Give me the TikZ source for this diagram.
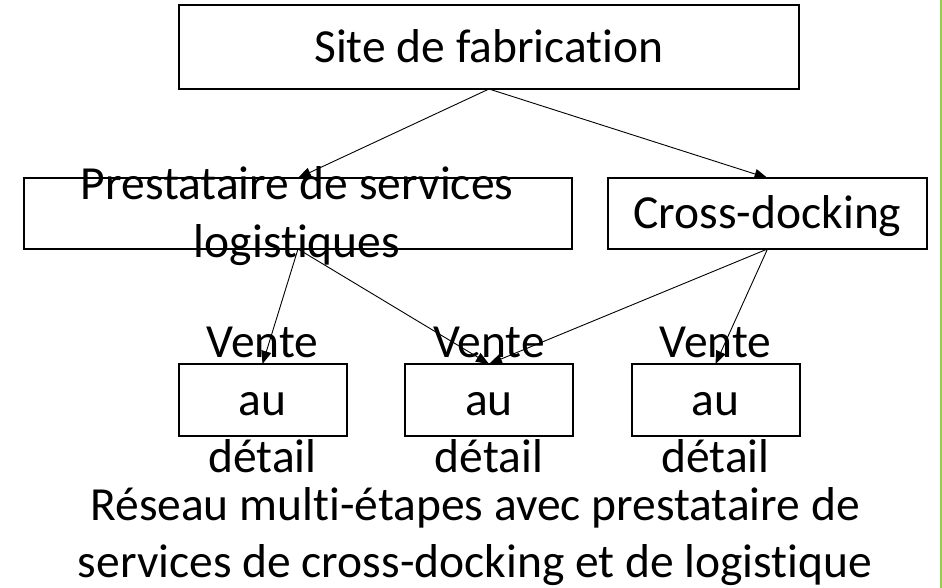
\documentclass[tikz,border=0pt]{standalone}
\usepackage{fontspec}
\setmainfont{Carlito}[Ligatures=NoCommon]
\usetikzlibrary{arrows.meta}
\definecolor{edgegreen}{RGB}{146,208,80}
\begin{document}
\begin{tikzpicture}[x=1pt,y=-1pt,
  box/.style={draw=black, line width=2pt, inner sep=0pt, outer sep=0pt},
  lbl/.style={inner sep=0pt, anchor=base, font=\fontsize{47.5}{57}\selectfont},
  conn/.style={line width=0.9pt, -{Triangle[length=13pt,width=10pt]}},
  rim/.style={draw=edgegreen, line width=1.5pt}]
\useasboundingbox (0,0) rectangle (942,588);
% boxes
\node[box, minimum width=620pt, minimum height=84pt] (site) at (489,47) {};
\node[box, minimum width=548pt, minimum height=71pt] (pl) at (298,213.5) {};
\node[box, minimum width=319pt, minimum height=71pt] (cd) at (767.5,213.5) {};
\node[box, minimum width=168pt, minimum height=72pt] (r1) at (262.5,400) {};
\node[box, minimum width=168pt, minimum height=72pt] (r2) at (489,400) {};
\node[box, minimum width=168pt, minimum height=72pt] (r3) at (715.5,400) {};
% texts
\node[lbl] (tsite) at (489,63) {Site de fabrication};
\node[lbl] (tpl1) at (297,200) {Prestataire de services};
\node[lbl] (tpl2) at (297,257) {logistiques};
\node[lbl] (tcd) at (767.5,229) {Cross-docking};
\foreach \n/\x in {1/262.5,2/489,3/715.5}{
  \node[lbl] (v\n) at (\x,357) {Vente};
  \node[lbl] (a\n) at (\x,415) {au};
  \node[lbl] (d\n) at (\x,472) {détail};
}
\node[lbl] (cap1) at (475,520) {Réseau multi-étapes avec prestataire de};
\node[lbl] (cap2) at (475,577) {services de cross-docking et de logistique};
% connectors
\draw[conn] (site.south) -- (pl.north);
\draw[conn] (site.south) -- (cd.north);
\draw[conn] (pl.south) -- (r1.north);
\draw[conn] (pl.south) -- (r2.north);
\draw[conn] (cd.south) -- (r2.north);
\draw[conn] (cd.south) -- (r3.north);
% right rim
\coordinate (gt) at (941,0);
\coordinate (gb) at (941,588);
\draw[rim] (gt) -- (gb);
\end{tikzpicture}
\end{document}
